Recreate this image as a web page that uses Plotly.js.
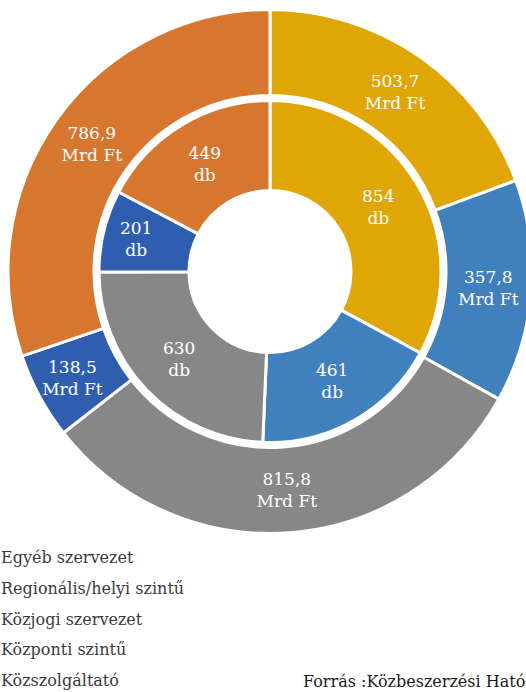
<!DOCTYPE html>
<html><head><meta charset="utf-8">
<script src="https://cdn.plot.ly/plotly-3.0.1.min.js"></script>
<style>html,body{margin:0;padding:0;overflow:hidden;background:#fff}#chart{width:560px;height:692px}</style>
</head><body><div id="chart"></div>
<script>
const categories = ["Egyéb szervezet","Regionális/helyi szintű","Közjogi szervezet","Központi szintű","Közszolgáltató"];
const valueMrdFt = [503.7, 357.8, 815.8, 138.5, 786.9];
const countDb = [854, 461, 630, 201, 449];
const sliceColors = ["#DFA606","#4080BD","#878787","#2F5DB0","#D6762F"];
const sourceText = "Forrás :Közbeszerzési Hatóság";

const W = 560, H = 692;
const serif = "DejaVu Serif";

function dom(cx, cy, r) {
  return {x: [(cx - r) / W, (cx + r) / W], y: [1 - (cy + r) / H, 1 - (cy - r) / H]};
}

const outer = {
  type: "pie", labels: categories, values: valueMrdFt, sort: false,
  direction: "clockwise", rotation: 0, hole: 176 / 262,
  domain: dom(270, 271.5, 262),
  marker: {colors: sliceColors, line: {color: "#ffffff", width: 3}},
  texttemplate: "%{value:.1f}<br>Mrd Ft", textposition: "inside",
  insidetextorientation: "horizontal",
  insidetextfont: {family: serif, size: 17, color: "#ffffff"},
  hoverinfo: "label+value", showlegend: false
};
const inner = {
  type: "pie", labels: categories, values: countDb, sort: false,
  direction: "clockwise", rotation: 0, hole: 81 / 171,
  domain: dom(270, 271.5, 171),
  marker: {colors: sliceColors, line: {color: "#ffffff", width: 3}},
  texttemplate: "%{value}<br>db", textposition: "inside",
  insidetextorientation: "horizontal",
  insidetextfont: {family: serif, size: 17, color: "#ffffff"},
  hoverinfo: "label+value", showlegend: false
};

const legendY = [557, 588, 619, 649, 680];
const annotations = categories.map((c, i) => ({
  text: c, xref: "paper", yref: "paper", x: -1 / W, y: 1 - legendY[i] / H,
  xanchor: "left", yanchor: "middle", showarrow: false,
  font: {family: serif, size: 16, color: "#3a3a3a"}
}));
annotations.push({
  text: sourceText, xref: "paper", yref: "paper", x: 301 / W, y: 1 - 681 / H,
  xanchor: "left", yanchor: "middle", showarrow: false,
  font: {family: serif, size: 16, color: "#1a1a1a"}
});

Plotly.newPlot("chart", [outer, inner], {
  width: W, height: H, margin: {l: 0, r: 0, t: 0, b: 0, autoexpand: false},
  paper_bgcolor: "#ffffff", separators: ", ", showlegend: false,
  annotations: annotations
}, {displayModeBar: false, staticPlot: true});
</script></body></html>
